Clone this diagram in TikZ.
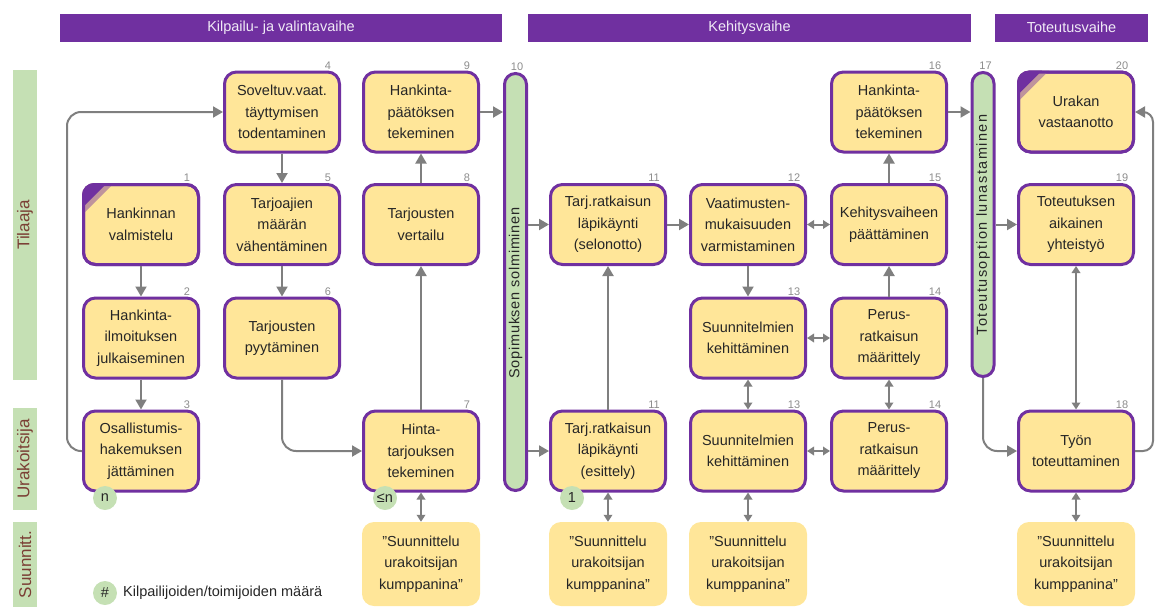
\documentclass[tikz,border=0pt]{standalone}
\usepackage{fontspec}
\setmainfont{Liberation Sans}
\newfontfamily\spacedA[LetterSpace=5]{Liberation Sans}
\newfontfamily\spacedB[LetterSpace=10]{Liberation Sans}
\usetikzlibrary{arrows.meta,calc}
\definecolor{purp}{HTML}{7030A0}
\definecolor{boxfill}{HTML}{FFE699}
\definecolor{lanegreen}{HTML}{C5E0B4}
\definecolor{arrgray}{HTML}{7F7F7F}
\definecolor{txt}{HTML}{262626}
\definecolor{numgray}{HTML}{8C8C8C}
\definecolor{lanetxt}{HTML}{7B3F35}
\definecolor{hdrtxt}{HTML}{F0EAF6}
\begin{document}
\begin{tikzpicture}[x=1pt,y=-1pt,
  proc/.style={rectangle, rounded corners=12pt, draw=purp, line width=3pt, fill=boxfill,
    minimum width=115pt, minimum height=80pt, inner sep=0pt, align=center, text=txt,
    font=\fontsize{14.5}{21.5}\selectfont},
  sbox/.style={rectangle, rounded corners=12pt, fill=boxfill, minimum width=118pt,
    minimum height=84pt, inner sep=0pt, align=center, text=txt,
    font=\fontsize{14.5}{21.5}\selectfont},
  vbar/.style={rectangle, rounded corners=11pt, draw=purp, line width=3pt, fill=lanegreen,
    minimum width=22pt, inner sep=0pt},
  vbartxt/.style={rotate=90, text=txt, font=\fontsize{14.5}{17}\selectfont, inner sep=0pt},
  hdr/.style={rectangle, fill=purp, minimum height=28pt, inner sep=0pt, text=hdrtxt,
    font=\fontsize{14.5}{17}\selectfont},
  lane/.style={rectangle, fill=lanegreen, rotate=90, minimum height=24pt, inner sep=0pt,
    text=lanetxt, font=\fontsize{17}{20}\selectfont},
  num/.style={anchor=south, inner sep=0pt, text=numgray, font=\fontsize{11}{12}\selectfont},
  circ/.style={circle, fill=lanegreen, minimum size=24pt, inner sep=0pt, text=txt,
    font=\fontsize{14.5}{17}\selectfont},
  arr/.style={draw=arrgray, line width=2pt, -{Triangle[length=10pt,width=11pt]}},
  darr/.style={draw=arrgray, line width=2pt, {Triangle[length=7pt,width=8.5pt]}-{Triangle[length=7pt,width=8.5pt]}},
]
\useasboundingbox (0,0) rectangle (1158,613);

% headers
\node[hdr, minimum width=442pt] (h1) at (281,27.5) {Kilpailu- ja valintavaihe};
\node[hdr, minimum width=443pt] (h2) at (749.5,27.5) {Kehitysvaihe};
\node[hdr, minimum width=153pt] (h3) at (1071.5,27.5) {Toteutusvaihe};

% lanes
\node[lane, minimum width=310pt] (lT) at (25,225) {Tilaaja};
\node[lane, minimum width=102pt] (lU) at (25,459) {Urakoitsija};
\node[lane, minimum width=85pt] (lS) at (25,564.5) {Suunnitt.};

% process boxes
\node[proc] (b1) at (141,224.5) {Hankinnan\\valmistelu};
\node[proc] (b2) at (141,338) {Hankinta-\\ilmoituksen\\julkaiseminen};
\node[proc] (b3) at (141,451) {Osallistumis-\\hakemuksen\\jättäminen};
\node[proc] (b4) at (282,112) {Soveltuv.vaat.\\täyttymisen\\todentaminen};
\node[proc] (b5) at (282,224.5) {Tarjoajien\\määrän\\vähentäminen};
\node[proc] (b6) at (282,338) {Tarjousten\\pyytäminen};
\node[proc] (b9) at (421,112) {Hankinta-\\päätöksen\\tekeminen};
\node[proc] (b8) at (421,224.5) {Tarjousten\\vertailu};
\node[proc] (b7) at (421,451) {Hinta-\\tarjouksen\\tekeminen};
\node[proc] (b11s) at (608,224.5) {Tarj.ratkaisun\\läpikäynti\\(selonotto)};
\node[proc] (b11e) at (608,451) {Tarj.ratkaisun\\läpikäynti\\(esittely)};
\node[proc] (b12) at (748,224.5) {Vaatimusten-\\mukaisuuden\\varmistaminen};
\node[proc] (b13a) at (748,338) {Suunnitelmien\\kehittäminen};
\node[proc] (b13b) at (748,451) {Suunnitelmien\\kehittäminen};
\node[proc] (b16) at (889,112) {Hankinta-\\päätöksen\\tekeminen};
\node[proc] (b15) at (889,224.5) {Kehitysvaiheen\\päättäminen};
\node[proc] (b14a) at (889,338) {Perus-\\ratkaisun\\määrittely};
\node[proc] (b14b) at (889,451) {Perus-\\ratkaisun\\määrittely};
\node[proc] (b20) at (1076,112) {Urakan\\vastaanotto};
\node[proc] (b19) at (1076,224.5) {Toteutuksen\\aikainen\\yhteistyö};
\node[proc] (b18) at (1076,451) {Työn\\toteuttaminen};

% corner marks
\foreach \b in {b1,b20}{
  \begin{scope}
    \clip[rounded corners=12pt] (\b.north west) rectangle (\b.south east);
    \fill[purp!45!boxfill] (\b.north west) -- ++(32,0) -- ++(-32,32) -- cycle;
    \fill[purp] (\b.north west) -- ++(25,0) -- ++(-25,25) -- cycle;
  \end{scope}
  \draw[purp, line width=3pt, rounded corners=12pt] (\b.north west) ++(1.5,1.5) rectangle ($(\b.south east)+(-1.5,-1.5)$);
}

% vertical bars
\node[vbar, minimum height=417pt] (bar10) at (515.5,282) {};
\node[vbartxt] (bar10t) at (515.5,293) {\spacedA Sopimuksen solmiminen};
\node[vbar, minimum height=304pt] (bar17) at (983,224.5) {};
\node[vbartxt] (bar17t) at (983,225) {\spacedB Toteutusoption lunastaminen};

% suunnittelu boxes
\node[sbox] (s1) at (421,564) {”Suunnittelu\\urakoitsijan\\kumppanina”};
\node[sbox] (s2) at (608,564) {”Suunnittelu\\urakoitsijan\\kumppanina”};
\node[sbox] (s3) at (748,564) {”Suunnittelu\\urakoitsijan\\kumppanina”};
\node[sbox] (s4) at (1076,564) {”Suunnittelu\\urakoitsijan\\kumppanina”};

% numbers
\foreach \b/\n in {b1/1,b2/2,b3/3,b4/4,b5/5,b6/6,b7/7,b8/8,b9/9,b11s/11,b11e/11,b12/12,b13a/13,b13b/13,b14a/14,b14b/14,b15/15,b16/16,b20/20,b19/19,b18/18}
  \node[num] (n-\b) at ($(\b.north east)+(-13,-1)$) {\n};
\node[num] (n-bar10) at ($(bar10.north east)+(-11,-1)$) {10};
\node[num] (n-bar17) at ($(bar17.north east)+(-10,-1)$) {17};

% connectors
\draw[arr] (b1) -- (b2);
\draw[arr] (b2) -- (b3);
\draw[arr, rounded corners=14pt] (b3.west) -- ++(-15,0) |- (b4.west);
\draw[arr] (b4) -- (b5);
\draw[arr] (b5) -- (b6);
\draw[arr, rounded corners=14pt] (b6.south) |- (b7.west);
\draw[arr] (b7) -- (b8);
\draw[arr] (b8) -- (b9);
\draw[arr] (b9.east) -- (bar10.west |- b9.east);
\draw[arr] (bar10.east |- b11s.west) -- (b11s.west);
\draw[arr] (bar10.east |- b11e.west) -- (b11e.west);
\draw[arr] (b11e) -- (b11s);
\draw[arr] (b11s) -- (b12);
\draw[darr] (b12) -- (b15);
\draw[arr] (b12) -- (b13a);
\draw[darr] (b13a) -- (b14a);
\draw[arr] (b14a) -- (b15);
\draw[arr] (b15) -- (b16);
\draw[arr] (b16.east) -- (bar17.west |- b16.east);
\draw[darr] (b13a) -- (b13b);
\draw[darr] (b14a) -- (b14b);
\draw[darr] (b13b) -- (b14b);
\draw[darr] (b7) -- (s1);
\draw[darr] (b11e) -- (s2);
\draw[darr] (b13b) -- (s3);
\draw[darr] (b18) -- (s4);
\draw[arr] (bar17.east |- b19.west) -- (b19.west);
\draw[arr, rounded corners=14pt] (bar17.south) |- (b18.west);
\draw[darr] (b18) -- (b19);
\draw[arr, rounded corners=10pt] (b18.east) -- ++(18,0) |- (b20.east);

% count circles
\node[circ] (c3) at (105,498) {n};
\node[circ] (c7) at (385,498) {≤n};
\node[circ] (c11) at (572,498) {1};
\node[circ] (cl) at (105,593) {\#};
\node[anchor=west, inner sep=0pt, text=txt, font=\fontsize{14.5}{17}\selectfont] (legt) at (123,593) {Kilpailijoiden/toimijoiden määrä};
\end{tikzpicture}
\end{document}
